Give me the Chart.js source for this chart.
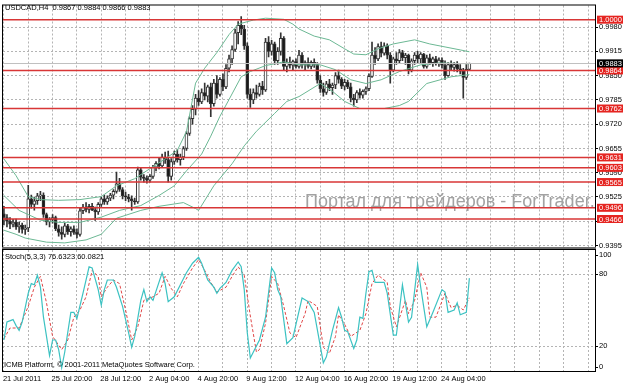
<!DOCTYPE html>
<html lang="ru">
<head>
    <meta charset="UTF-8">
    <script src="https://cdn.jsdelivr.net/npm/chart.js"></script>
    <title>USDCAD,H4</title>
    <style>
        body {
            margin: 0;
            background: #ffffff;
        }

        .wrap {
            position: relative;
            width: 623px;
            height: 384px;
        }

        canvas {
            position: absolute;
            left: 0;
            top: 0;
        }
    </style>
</head>
<body>
    <div class="wrap">
        <canvas id="priceChart" width="623" height="384"></canvas>
        <canvas id="stochChart" width="623" height="384"></canvas>
    </div>

    <script>
        // time axis labels, one every 16 bars
        const timeLabels = ['21 Jul 2011', '25 Jul 20:00', '28 Jul 12:00', '2 Aug 04:00', '4 Aug 20:00',
            '9 Aug 12:00', '12 Aug 04:00', '16 Aug 20:00', '19 Aug 12:00', '24 Aug 04:00'];

        // H4 candles
        const opens = [
            0.9480, 0.9470, 0.9460, 0.9452, 0.9458, 0.9445, 0.9450, 0.9438, 0.9442, 0.9520,
            0.9505, 0.9515, 0.9528, 0.9530, 0.9478, 0.9458, 0.9465, 0.9470, 0.9440, 0.9430,
            0.9425, 0.9448, 0.9432, 0.9440, 0.9430, 0.9425, 0.9488, 0.9498, 0.9492, 0.9500,
            0.9490, 0.9485, 0.9505, 0.9520, 0.9512, 0.9522, 0.9530, 0.9540, 0.9560, 0.9545,
            0.9528, 0.9525, 0.9520, 0.9515, 0.9512, 0.9598, 0.9578, 0.9575, 0.9570, 0.9580,
            0.9605, 0.9615, 0.9608, 0.9632, 0.9625, 0.9580, 0.9620, 0.9640, 0.9625, 0.9632,
            0.9655, 0.9695, 0.9735, 0.9760, 0.9790, 0.9780, 0.9805, 0.9795, 0.9820, 0.9775,
            0.9830, 0.9800, 0.9840, 0.9820, 0.9870, 0.9895, 0.9920, 0.9965, 0.9985, 0.9975,
            0.9930, 0.9800, 0.9785, 0.9805, 0.9800, 0.9822, 0.9812, 0.9940, 0.9915, 0.9935,
            0.9890, 0.9915, 0.9950, 0.9875, 0.9885, 0.9878, 0.9888, 0.9875, 0.9905, 0.9880,
            0.9885, 0.9875, 0.9886, 0.9880, 0.9838, 0.9815, 0.9805, 0.9828, 0.9818, 0.9825,
            0.9850, 0.9840, 0.9822, 0.9832, 0.9820, 0.9790, 0.9785, 0.9805, 0.9798, 0.9808,
            0.9815, 0.9848, 0.9905, 0.9895, 0.9928, 0.9910, 0.9930, 0.9905, 0.9865, 0.9895,
            0.9890, 0.9912, 0.9898, 0.9905, 0.9865, 0.9890, 0.9905, 0.9895, 0.9908, 0.9875,
            0.9898, 0.9885, 0.9895, 0.9882, 0.9892, 0.9878, 0.9850, 0.9880, 0.9872, 0.9880,
            0.9868, 0.9862, 0.9845, 0.9867
        ];
        const highs = [
            0.9500, 0.9478, 0.9470, 0.9465, 0.9466, 0.9458, 0.9455, 0.9450, 0.9556, 0.9530,
            0.9525, 0.9535, 0.9540, 0.9536, 0.9482, 0.9470, 0.9478, 0.9474, 0.9450, 0.9445,
            0.9455, 0.9452, 0.9445, 0.9448, 0.9440, 0.9495, 0.9505, 0.9510, 0.9505, 0.9508,
            0.9498, 0.9510, 0.9525, 0.9530, 0.9528, 0.9535, 0.9545, 0.9592, 0.9575, 0.9550,
            0.9538, 0.9532, 0.9528, 0.9522, 0.9605, 0.9602, 0.9585, 0.9582, 0.9585, 0.9610,
            0.9620, 0.9630, 0.9640, 0.9645, 0.9648, 0.9628, 0.9648, 0.9652, 0.9640, 0.9660,
            0.9700, 0.9740, 0.9770, 0.9800, 0.9810, 0.9815, 0.9830, 0.9825, 0.9830, 0.9840,
            0.9850, 0.9845, 0.9855, 0.9880, 0.9905, 0.9930, 0.9975, 0.9995, 1.0008, 0.9985,
            0.9938, 0.9815, 0.9815, 0.9825, 0.9830, 0.9835, 0.9950, 0.9955, 0.9945, 0.9940,
            0.9925, 0.9965, 0.9955, 0.9895, 0.9900, 0.9892, 0.9895, 0.9918, 0.9912, 0.9890,
            0.9898, 0.9890, 0.9895, 0.9885, 0.9850, 0.9830, 0.9835, 0.9840, 0.9830, 0.9858,
            0.9865, 0.9845, 0.9840, 0.9838, 0.9830, 0.9800, 0.9810, 0.9815, 0.9812, 0.9820,
            0.9855, 0.9940, 0.9925, 0.9935, 0.9940, 0.9938, 0.9935, 0.9912, 0.9900, 0.9912,
            0.9920, 0.9918, 0.9910, 0.9908, 0.9895, 0.9912, 0.9915, 0.9912, 0.9910, 0.9905,
            0.9908, 0.9900, 0.9902, 0.9898, 0.9898, 0.9890, 0.9885, 0.9890, 0.9885, 0.9888,
            0.9880, 0.9870, 0.9880, 0.9884
        ];
        const lows = [
            0.9450, 0.9445, 0.9440, 0.9445, 0.9438, 0.9430, 0.9428, 0.9425, 0.9432, 0.9495,
            0.9490, 0.9505, 0.9515, 0.9470, 0.9450, 0.9445, 0.9455, 0.9435, 0.9420, 0.9412,
            0.9418, 0.9425, 0.9420, 0.9425, 0.9415, 0.9420, 0.9480, 0.9485, 0.9482, 0.9488,
            0.9462, 0.9478, 0.9500, 0.9505, 0.9505, 0.9515, 0.9520, 0.9535, 0.9540, 0.9520,
            0.9515, 0.9512, 0.9490, 0.9505, 0.9508, 0.9570, 0.9565, 0.9562, 0.9565, 0.9575,
            0.9595, 0.9600, 0.9605, 0.9615, 0.9565, 0.9570, 0.9612, 0.9618, 0.9610, 0.9625,
            0.9650, 0.9690, 0.9720, 0.9745, 0.9770, 0.9775, 0.9785, 0.9780, 0.9740, 0.9768,
            0.9790, 0.9795, 0.9810, 0.9815, 0.9860, 0.9880, 0.9915, 0.9935, 0.9960, 0.9920,
            0.9790, 0.9765, 0.9775, 0.9790, 0.9795, 0.9800, 0.9808, 0.9900, 0.9905, 0.9880,
            0.9880, 0.9905, 0.9865, 0.9860, 0.9870, 0.9865, 0.9870, 0.9870, 0.9870, 0.9865,
            0.9870, 0.9868, 0.9872, 0.9830, 0.9805, 0.9795, 0.9800, 0.9810, 0.9800, 0.9815,
            0.9830, 0.9815, 0.9812, 0.9815, 0.9780, 0.9768, 0.9778, 0.9790, 0.9790, 0.9800,
            0.9810, 0.9845, 0.9880, 0.9890, 0.9900, 0.9905, 0.9895, 0.9830, 0.9860, 0.9880,
            0.9885, 0.9890, 0.9880, 0.9855, 0.9860, 0.9880, 0.9885, 0.9885, 0.9870, 0.9870,
            0.9880, 0.9875, 0.9878, 0.9875, 0.9870, 0.9840, 0.9848, 0.9865, 0.9862, 0.9860,
            0.9855, 0.9790, 0.9840, 0.9866
        ];
        const closes = [
            0.9470, 0.9460, 0.9452, 0.9458, 0.9445, 0.9450, 0.9438, 0.9442, 0.9520, 0.9505,
            0.9515, 0.9528, 0.9530, 0.9478, 0.9458, 0.9465, 0.9470, 0.9440, 0.9430, 0.9425,
            0.9448, 0.9432, 0.9440, 0.9430, 0.9425, 0.9488, 0.9498, 0.9492, 0.9500, 0.9490,
            0.9485, 0.9505, 0.9520, 0.9512, 0.9522, 0.9530, 0.9540, 0.9560, 0.9545, 0.9528,
            0.9525, 0.9520, 0.9515, 0.9512, 0.9598, 0.9578, 0.9575, 0.9570, 0.9580, 0.9605,
            0.9615, 0.9608, 0.9632, 0.9625, 0.9580, 0.9620, 0.9640, 0.9625, 0.9632, 0.9655,
            0.9695, 0.9735, 0.9760, 0.9790, 0.9780, 0.9805, 0.9795, 0.9820, 0.9775, 0.9830,
            0.9800, 0.9840, 0.9820, 0.9870, 0.9895, 0.9920, 0.9965, 0.9985, 0.9975, 0.9930,
            0.9800, 0.9785, 0.9805, 0.9800, 0.9822, 0.9812, 0.9940, 0.9915, 0.9935, 0.9890,
            0.9915, 0.9950, 0.9875, 0.9885, 0.9878, 0.9888, 0.9875, 0.9905, 0.9880, 0.9885,
            0.9875, 0.9886, 0.9880, 0.9838, 0.9815, 0.9805, 0.9828, 0.9818, 0.9825, 0.9850,
            0.9840, 0.9822, 0.9832, 0.9820, 0.9790, 0.9785, 0.9805, 0.9798, 0.9808, 0.9815,
            0.9848, 0.9905, 0.9895, 0.9928, 0.9910, 0.9930, 0.9905, 0.9865, 0.9895, 0.9890,
            0.9912, 0.9898, 0.9905, 0.9865, 0.9890, 0.9905, 0.9895, 0.9908, 0.9875, 0.9898,
            0.9885, 0.9895, 0.9882, 0.9892, 0.9878, 0.9850, 0.9880, 0.9872, 0.9880, 0.9868,
            0.9862, 0.9845, 0.9867, 0.9883
        ];

        // Bollinger bands: [bar, price]
        const bbUpper = [[0, 0.9627], [4, 0.9582], [8, 0.9526], [12, 0.9518], [18, 0.9516], [25, 0.9518],
            [32, 0.9526], [37, 0.9555], [43, 0.9574], [48, 0.9601], [53, 0.9627], [57, 0.9650],
            [60, 0.9700], [63, 0.9830], [66, 0.9870], [70, 0.9912], [74, 0.9960], [77, 0.9988],
            [82, 0.9999], [86, 1.0004], [92, 1.0001], [95, 0.9988], [97, 0.9975], [102, 0.9956],
            [107, 0.9946], [112, 0.9922], [115, 0.9908], [119, 0.9906], [123, 0.9922], [128, 0.9935],
            [135, 0.9946], [140, 0.9935], [145, 0.9927], [150, 0.9919], [153, 0.9914]];
        const bbMiddle = [[0, 0.9529], [5, 0.9489], [12, 0.9463], [18, 0.9457], [25, 0.9457], [32, 0.9471],
            [38, 0.9489], [45, 0.9502], [51, 0.9529], [56, 0.9555], [60, 0.9595], [65, 0.9640],
            [68, 0.9688], [71, 0.9741], [74, 0.9786], [78, 0.9847], [81, 0.9861], [86, 0.9877],
            [92, 0.9887], [97, 0.9879], [104, 0.9879], [109, 0.9866], [114, 0.9839], [119, 0.9829],
            [124, 0.9839], [130, 0.9861], [137, 0.9879], [143, 0.9884], [153, 0.9882]];
        const bbLower = [[0, 0.9436], [4, 0.9425], [7, 0.9415], [14, 0.9404], [20, 0.9402], [27, 0.9410],
            [32, 0.9425], [37, 0.9468], [45, 0.9489], [51, 0.9500], [59, 0.9510], [63, 0.9494],
            [64, 0.9489], [69, 0.9555], [75, 0.9614], [79, 0.9662], [83, 0.9701], [89, 0.9749],
            [93, 0.9781], [97, 0.9794], [104, 0.9829], [108, 0.9808], [112, 0.9781], [117, 0.9762],
            [125, 0.9762], [130, 0.9770], [133, 0.9781], [139, 0.9829], [147, 0.9847], [153, 0.9853]];

        // price axis ticks and horizontal levels
        const priceTicks = [0.9395, 0.9460, 0.9525, 0.9590, 0.9655, 0.9720, 0.9785, 0.9850, 0.9915, 0.9980];
        const levelLines = [1.0000, 0.9864, 0.9762, 0.9631, 0.9603, 0.9565, 0.9496, 0.9466];
        const bidPrice = 0.9883;

        // Stochastic(5,3,3): [bar, value]
        const stochMain = [[0, 25], [1, 40], [3, 42], [4, 37], [5, 33], [6, 40], [8, 64], [9, 72], [10, 71],
            [11, 79], [12, 69], [13, 44], [15, 12], [16, 25], [17, 25], [18, 17], [19, 2], [20, 15],
            [22, 48], [23, 48], [24, 43], [26, 64], [28, 86], [29, 85], [31, 67], [32, 54], [33, 67],
            [34, 75], [36, 75], [37, 69], [39, 53], [41, 31], [42, 19], [43, 28], [45, 58], [46, 67],
            [47, 57], [48, 61], [49, 58], [52, 81], [53, 72], [54, 57], [56, 61], [58, 71], [60, 81],
            [62, 89], [64, 94], [65, 89], [67, 75], [69, 69], [70, 64], [71, 68], [73, 73], [75, 83],
            [77, 90], [78, 86], [79, 67], [80, 31], [81, 10], [82, 15], [84, 25], [86, 44], [88, 85],
            [89, 81], [90, 67], [91, 61], [93, 22], [95, 27], [96, 38], [98, 60], [100, 57], [102, 48],
            [105, 6], [106, 11], [108, 33], [110, 52], [111, 44], [112, 33], [113, 32], [115, 18],
            [116, 25], [117, 44], [118, 43], [119, 64], [120, 82], [121, 83], [122, 73], [125, 73],
            [126, 64], [128, 29], [129, 29], [131, 71], [133, 40], [134, 44], [136, 88], [137, 69],
            [139, 36], [141, 48], [144, 67], [145, 65], [146, 48], [148, 50], [149, 56], [150, 46],
            [152, 48], [153, 76.6]];
        const stochSignal = [[0, 26], [2, 35], [5, 35], [8, 53], [10, 69], [12, 78], [14, 56], [16, 28],
            [19, 17], [21, 25], [23, 44], [25, 50], [27, 61], [29, 83], [31, 78], [32, 61], [34, 69],
            [36, 75], [38, 72], [40, 50], [42, 25], [44, 36], [46, 58], [49, 61], [51, 64], [53, 78],
            [55, 68], [57, 61], [59, 72], [62, 85], [64, 92], [66, 83], [68, 73], [70, 65], [73, 69],
            [75, 78], [77, 86], [79, 79], [81, 45], [83, 15], [84, 17], [86, 39], [88, 78], [90, 72],
            [92, 53], [94, 31], [96, 27], [99, 47], [100, 58], [103, 53], [105, 19], [107, 14],
            [109, 28], [110, 46], [112, 38], [114, 28], [117, 33], [119, 47], [121, 72], [123, 79],
            [126, 73], [127, 53], [129, 36], [132, 58], [133, 47], [135, 58], [137, 81], [139, 69],
            [140, 44], [142, 44], [145, 64], [147, 52], [149, 54], [151, 50], [153, 60.1]];
        const stochTicks = [100, 80, 20, 0];

        const labelFont = { family: "'Liberation Sans', Arial, sans-serif", size: 7.5 };
        const gridColor = '#b4b4b4';
        const bandColor = '#6cb894';
        const xRange = { min: -0.3, max: 194.3 };

        Chart.defaults.font.family = labelFont.family;

        function pairsToPoints(pairs) {
            return pairs.map(p => ({ x: p[0], y: p[1] }));
        }

        // one vertical grid line every 8 bars
        function barGridTicks(scale) {
            const t = [];
            for (let v = 0; v <= xRange.max; v += 8) t.push({ value: v });
            scale.ticks = t;
        }

        function hLine(ctx, a, y) {
            ctx.beginPath();
            ctx.moveTo(a.left, y);
            ctx.lineTo(a.right, y);
            ctx.stroke();
        }

        function priceBox(ctx, y, text, fill) {
            ctx.fillStyle = fill;
            ctx.fillRect(597, y - 4, 26, 8);
            ctx.fillStyle = '#ffffff';
            ctx.font = '7.5px ' + labelFont.family;
            ctx.textBaseline = 'middle';
            ctx.textAlign = 'left';
            ctx.fillText(text, 599, y + 0.5);
        }

        const priceOverlay = {
            id: 'priceOverlay',
            beforeDatasetsDraw(chart) {
                const { ctx, chartArea: a } = chart;
                ctx.save();
                ctx.beginPath();
                ctx.rect(a.left, a.top, a.right - a.left, a.bottom - a.top);
                ctx.clip();
                ctx.font = '18px ' + labelFont.family;
                ctx.fillStyle = '#a2a2a2';
                ctx.textBaseline = 'alphabetic';
                ctx.fillText('Портал для трейдеров - ForTrader.ru', a.left + 302, 207);
                ctx.restore();
            },
            afterDatasetsDraw(chart) {
                const { ctx, chartArea: a, scales: { y } } = chart;
                ctx.save();
                ctx.lineWidth = 1;
                ctx.strokeStyle = '#c0c0c0';
                hLine(ctx, a, Math.round(y.getPixelForValue(bidPrice)) + 0.5);
                ctx.lineWidth = 1.5;
                ctx.strokeStyle = '#d83636';
                levelLines.forEach(v => hLine(ctx, a, y.getPixelForValue(v)));
                ctx.restore();
            },
            afterDraw(chart) {
                const { ctx, chartArea: a, scales: { y } } = chart;
                ctx.save();
                ctx.strokeStyle = '#000000';
                ctx.lineWidth = 1;
                ctx.strokeRect(a.left - 0.5, a.top - 0.5, a.right - a.left + 1, a.bottom - a.top + 1);
                ctx.fillStyle = '#6e6e6e';
                ctx.fillRect(a.left - 1, a.bottom, a.right - a.left + 2, 3);

                levelLines.forEach(v => priceBox(ctx, y.getPixelForValue(v), v.toFixed(4), '#e52420'));
                priceBox(ctx, y.getPixelForValue(bidPrice), bidPrice.toFixed(4), '#000000');

                ctx.fillStyle = '#000000';
                ctx.font = '7.5px ' + labelFont.family;
                ctx.textBaseline = 'middle';
                ctx.fillText('USDCAD,H4  0.9867 0.9884 0.9866 0.9883', a.left + 2, 8);
                ctx.restore();
            }
        };

        const stochOverlay = {
            id: 'stochOverlay',
            afterDraw(chart) {
                const { ctx, chartArea: a, scales: { y } } = chart;
                ctx.save();
                ctx.strokeStyle = '#000000';
                ctx.lineWidth = 1;
                ctx.strokeRect(a.left - 0.5, a.top - 0.5, a.right - a.left + 1, a.bottom - a.top + 1);

                ctx.fillStyle = '#000000';
                ctx.font = '7.5px ' + labelFont.family;
                ctx.textBaseline = 'middle';
                ctx.textAlign = 'left';
                stochTicks.forEach(v => {
                    const py = Math.min(Math.max(y.getPixelForValue(v), a.top + 4.5), a.bottom - 4.5);
                    ctx.fillRect(a.right, Math.round(py), 3, 1);
                    ctx.fillText(String(v), a.right + 4, py);
                });
                ctx.fillText('Stoch(5,3,3) 76.6323 60.0821', a.left + 2, 257);
                ctx.fillText('ICMB Platform, \u00a9 2001-2011 MetaQuotes Software Corp.', a.left + 1, 365);
                ctx.restore();
            }
        };

        new Chart(document.getElementById('priceChart'), {
            type: 'bar',
            data: {
                datasets: [
                    { type: 'line', data: pairsToPoints(bbUpper), borderColor: bandColor, borderWidth: 1, pointRadius: 0, order: 0 },
                    { type: 'line', data: pairsToPoints(bbMiddle), borderColor: bandColor, borderWidth: 1, pointRadius: 0, order: 0 },
                    { type: 'line', data: pairsToPoints(bbLower), borderColor: bandColor, borderWidth: 1, pointRadius: 0, order: 0 },
                    {
                        data: opens.map((o, i) => ({ x: i, y: [o, closes[i]] })),
                        backgroundColor: closes.map((c, i) => c >= opens[i] ? '#ffffff' : '#1a1a1a'),
                        borderColor: '#333333',
                        borderWidth: 1,
                        borderSkipped: false,
                        barThickness: 3,
                        minBarLength: 1,
                        grouped: false,
                        order: 1
                    },
                    {
                        data: lows.map((l, i) => ({ x: i, y: [l, highs[i]] })),
                        backgroundColor: '#333333',
                        barThickness: 1,
                        grouped: false,
                        order: 2
                    }
                ]
            },
            options: {
                responsive: false,
                animation: false,
                devicePixelRatio: 1,
                layout: { padding: { left: 3, top: 3, right: 0, bottom: 137 } },
                plugins: { legend: { display: false }, tooltip: { enabled: false } },
                scales: {
                    x: {
                        type: 'linear',
                        min: xRange.min,
                        max: xRange.max,
                        offset: false,
                        afterBuildTicks: barGridTicks,
                        afterFit: s => { s.height = 0; },
                        ticks: { display: false },
                        grid: { color: gridColor, offset: false, drawTicks: false },
                        border: { display: false, dash: [2, 2] }
                    },
                    y: {
                        type: 'linear',
                        position: 'right',
                        min: 0.9391,
                        max: 1.0038,
                        afterBuildTicks: s => { s.ticks = priceTicks.map(v => ({ value: v })); },
                        afterFit: s => { s.width = 28; },
                        ticks: { font: labelFont, color: '#000000', padding: 1, callback: v => v.toFixed(4) },
                        grid: { color: gridColor, tickColor: '#000000', tickLength: 3 },
                        border: { display: false, dash: [2, 2] }
                    }
                }
            },
            plugins: [priceOverlay]
        });

        new Chart(document.getElementById('stochChart'), {
            type: 'line',
            data: {
                datasets: [
                    { data: pairsToPoints(stochMain), borderColor: '#3cc2c2', borderWidth: 1.2, pointRadius: 0 },
                    { data: pairsToPoints(stochSignal), borderColor: '#e04646', borderWidth: 1, borderDash: [3, 2], pointRadius: 0 }
                ]
            },
            options: {
                responsive: false,
                animation: false,
                devicePixelRatio: 1,
                layout: { padding: { left: 3, top: 250, right: 0, bottom: 0 } },
                plugins: { legend: { display: false }, tooltip: { enabled: false } },
                scales: {
                    x: {
                        type: 'linear',
                        min: xRange.min,
                        max: xRange.max,
                        offset: false,
                        afterBuildTicks: barGridTicks,
                        afterFit: s => { s.height = 13; },
                        ticks: {
                            font: labelFont,
                            color: '#000000',
                            align: 'start',
                            maxRotation: 0,
                            autoSkip: false,
                            padding: 3,
                            labelOffset: -1,
                            callback: v => (v % 16 === 0 ? (timeLabels[v / 16] || '') : '')
                        },
                        grid: { color: gridColor, drawTicks: false },
                        border: { display: false, dash: [2, 2] }
                    },
                    y: {
                        type: 'linear',
                        position: 'right',
                        min: -0.83,
                        max: 100,
                        afterBuildTicks: s => { s.ticks = [{ value: 20 }, { value: 80 }]; },
                        afterFit: s => { s.width = 28; },
                        ticks: { display: false },
                        grid: { color: gridColor, drawTicks: false },
                        border: { display: false, dash: [2, 2] }
                    }
                }
            },
            plugins: [stochOverlay]
        });
    </script>
</body>
</html>
